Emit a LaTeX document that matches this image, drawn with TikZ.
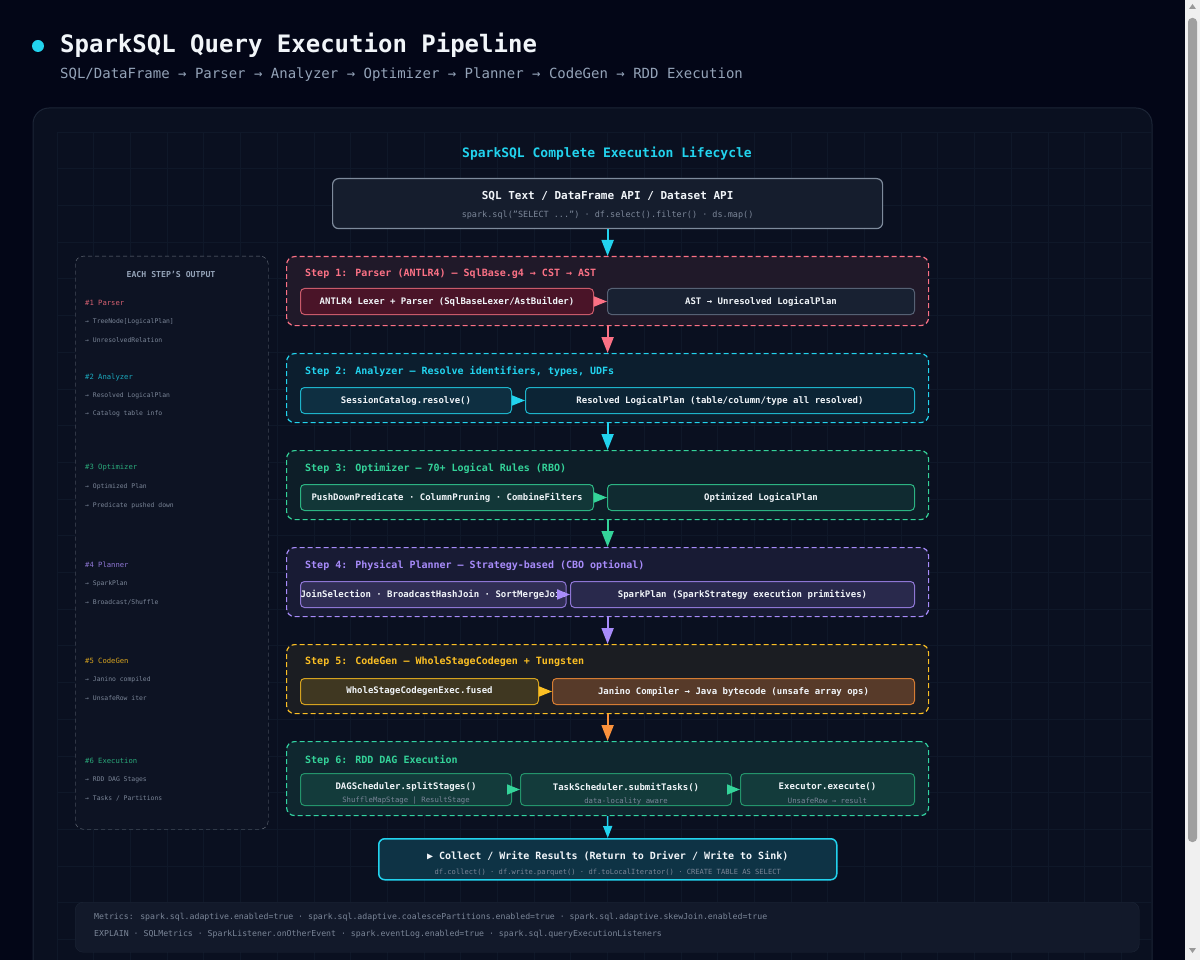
\documentclass[tikz,border=0pt]{standalone}
\usepackage{fontspec}
\setmainfont{DejaVu Sans Mono}
\usetikzlibrary{positioning}
\usetikzlibrary{arrows.meta}

\definecolor{bgc}{HTML}{030617}
\definecolor{panelc}{HTML}{0A1020}
\definecolor{panelb}{HTML}{1C2536}
\definecolor{gridc}{HTML}{0F1829}
\definecolor{txtw}{HTML}{F1F5F9}
\definecolor{subg}{HTML}{7B8698}
\definecolor{greyt}{HTML}{94A3B8}
\definecolor{rosec}{HTML}{FB7185}
\definecolor{maroonc}{HTML}{4A1428}
\definecolor{cyanc}{HTML}{22D3EE}
\definecolor{greenc}{HTML}{34D399}
\definecolor{purpc}{HTML}{A78BFA}
\definecolor{amberc}{HTML}{FBBF24}
\definecolor{orangec}{HTML}{FB923C}

\tikzset{stepbox/.style={draw,dash pattern=on 5pt off 3pt,line width=1.2pt,rounded corners=8pt,minimum width=642pt,minimum height=69pt,anchor=north west,inner sep=0pt}}
\tikzset{steplbl/.style={anchor=west,inner sep=0pt,font=\bfseries\fontsize{10}{12}\selectfont}}
\tikzset{inbox/.style={draw,line width=1pt,rounded corners=4pt,minimum height=26pt,anchor=north west,inner sep=0pt,text=txtw,font=\bfseries\fontsize{9}{11}\selectfont}}
\tikzset{subtxt/.style={inner sep=0pt,text=subg,font=\fontsize{7.3}{9}\selectfont}}
\tikzset{sidehd/.style={anchor=west,inner sep=0pt,font=\fontsize{7.2}{9}\selectfont}}
\tikzset{sideit/.style={anchor=west,inner sep=0pt,text=subg,font=\fontsize{6.4}{8}\selectfont}}
\tikzset{harr/.style={-{Triangle[length=13pt,width=10pt]},line width=1.5pt}}
\tikzset{varr/.style={-{Triangle[length=16pt,width=12pt]},line width=2pt}}

\begin{document}
\begin{tikzpicture}[x=1pt,y=-1pt]
\useasboundingbox (0,0) rectangle (1200,960);
\fill[bgc] (0,0) rectangle (1200,960);

% header
\fill[cyanc] (38,46) circle (6pt);
\node[anchor=west,inner sep=0pt,text=txtw,font=\bfseries\fontsize{24}{28}\selectfont] (title) at (60,45) {SparkSQL Query Execution Pipeline};
\node[anchor=west,inner sep=0pt,text=greyt,font=\fontsize{14}{16}\selectfont] (subtitle) at (60,75) {SQL/DataFrame → Parser → Analyzer → Optimizer → Planner → CodeGen → RDD Execution};

% panel with grid
\filldraw[fill=panelc,draw=panelb,line width=1pt,rounded corners=16pt] (33,108) rectangle (1152,990);
\begin{scope}
\clip[rounded corners=16pt] (33,108) rectangle (1152,990);
\foreach \i in {0,...,29} \draw[gridc,line width=0.8pt] ({57+36.7*\i},132) -- ({57+36.7*\i},960);
\foreach \j in {0,...,22} \draw[gridc,line width=0.8pt] (57,{132+36.7*\j}) -- (1152,{132+36.7*\j});
\end{scope}

\node[inner sep=0pt,text=cyanc,font=\bfseries\fontsize{13}{15}\selectfont] (life) at (607,154) {SparkSQL Complete Execution Lifecycle};

% source
\node[draw=greyt!85!black,fill=panelb!60!panelc,line width=1.2pt,rounded corners=6pt,minimum width=550pt,minimum height=50pt,anchor=north west] (src) at (332,178) {};
\node[inner sep=0pt,text=txtw,font=\bfseries\fontsize{11}{13}\selectfont] (srct) at ([yshift=-18pt]src.north) {SQL Text / DataFrame API / Dataset API};
\node[subtxt,font=\fontsize{8.5}{10}\selectfont] (srcs) at ([yshift=14pt]src.south) {spark.sql("SELECT ...") · df.select().filter() · ds.map()};

% side panel
\node[draw=panelb!80!greyt!70,dash pattern=on 4pt off 3pt,fill=panelc!85!panelb,rounded corners=8pt,minimum width=193pt,minimum height=573pt,anchor=north west] (side) at (75,256) {};
\node[inner sep=0pt,text=greyt,font=\bfseries\fontsize{8.2}{10}\selectfont] (sidet) at (171,274) {EACH STEP'S OUTPUT};
\node[sidehd,text=rosec!85!black] (h1) at (85,303) {\#1 Parser};
\node[sideit] at (85,322) {→ TreeNode[LogicalPlan]};
\node[sideit] at (85,340) {→ UnresolvedRelation};
\node[sidehd,text=cyanc!80!black] (h2) at (85,377) {\#2 Analyzer};
\node[sideit] at (85,396) {→ Resolved LogicalPlan};
\node[sideit] at (85,414) {→ Catalog table info};
\node[sidehd,text=greenc!80!black] (h3) at (85,468) {\#3 Optimizer};
\node[sideit] at (85,487) {→ Optimized Plan};
\node[sideit] at (85,506) {→ Predicate pushed down};
\node[sidehd,text=purpc!85!black] (h4) at (85,565) {\#4 Planner};
\node[sideit] at (85,584) {→ SparkPlan};
\node[sideit] at (85,602) {→ Broadcast/Shuffle};
\node[sidehd,text=amberc!85!black] (h5) at (85,661) {\#5 CodeGen};
\node[sideit] at (85,680) {→ Janino compiled};
\node[sideit] at (85,698) {→ UnsafeRow iter};
\node[sidehd,text=greenc!80!black] (h6) at (85,761) {\#6 Execution};
\node[sideit] at (85,780) {→ RDD DAG Stages};
\node[sideit] at (85,798) {→ Tasks / Partitions};

% step 1
\node[stepbox,draw=rosec,fill=rosec!9!panelc] (s1) at (286,256) {};
\node[steplbl,text=rosec] (s1t) at (305,274) {Step 1: Parser (ANTLR4) — SqlBase.g4 → CST → AST};
\node[inbox,draw=rosec!80!black,fill=maroonc,minimum width=293pt] (s1a) at (300,288) {ANTLR4 Lexer + Parser (SqlBaseLexer/AstBuilder)};
\node[inbox,draw=greyt!55!panelc,fill=panelb!80!panelc,minimum width=307pt] (s1b) at (607,288) {AST → Unresolved LogicalPlan};
\draw[harr,rosec] (s1a.east) -- (s1b.west);

% step 2
\node[stepbox,draw=cyanc,fill=cyanc!7!panelc] (s2) at (286,353) {};
\node[steplbl,text=cyanc] (s2t) at (305,371) {Step 2: Analyzer — Resolve identifiers, types, UDFs};
\node[inbox,draw=cyanc!85!black,fill=cyanc!16!panelc,minimum width=211pt] (s2a) at (300,387) {SessionCatalog.resolve()};
\node[inbox,draw=cyanc!85!black,fill=cyanc!10!panelc,minimum width=389pt] (s2b) at (525,387) {Resolved LogicalPlan (table/column/type all resolved)};
\draw[harr,cyanc] (s2a.east) -- (s2b.west);

% step 3
\node[stepbox,draw=greenc,fill=greenc!7!panelc] (s3) at (286,450) {};
\node[steplbl,text=greenc] (s3t) at (305,468) {Step 3: Optimizer — 70+ Logical Rules (RBO)};
\node[inbox,draw=greenc!85!black,fill=greenc!20!panelc,minimum width=293pt] (s3a) at (300,484) {PushDownPredicate · ColumnPruning · CombineFilters};
\node[inbox,draw=greenc!85!black,fill=greenc!14!panelc,minimum width=307pt] (s3b) at (607,484) {Optimized LogicalPlan};
\draw[harr,greenc] (s3a.east) -- (s3b.west);

% step 4
\node[stepbox,draw=purpc,fill=purpc!9!panelc] (s4) at (286,547) {};
\node[steplbl,text=purpc] (s4t) at (305,565) {Step 4: Physical Planner — Strategy-based (CBO optional)};
\node[inbox,draw=purpc!85!black,fill=purpc!24!panelc,minimum width=257pt] (s4a) at (300,581) {JoinSelection · BroadcastHashJoin · SortMergeJoin};
\node[inbox,draw=purpc!85!black,fill=purpc!20!panelc,minimum width=344pt] (s4b) at (570,581) {SparkPlan (SparkStrategy execution primitives)};
\draw[harr,purpc] (s4a.east) -- (s4b.west);

% step 5
\node[stepbox,draw=amberc,fill=amberc!7!panelc!92!panelb] (s5) at (286,644) {};
\node[steplbl,text=amberc] (s5t) at (305,662) {Step 5: CodeGen — WholeStageCodegen + Tungsten};
\node[inbox,draw=amberc!85!black,fill=amberc!22!panelc,minimum width=238pt] (s5a) at (300,678) {WholeStageCodegenExec.fused};
\node[inbox,draw=orangec!85!black,fill=orangec!32!panelc,minimum width=362pt] (s5b) at (552,678) {Janino Compiler → Java bytecode (unsafe array ops)};
\draw[harr,amberc] (s5a.east) -- (s5b.west);

% step 6
\node[stepbox,draw=greenc!90!cyanc,fill=greenc!12!panelc,minimum height=74pt] (s6) at (286,741) {};
\node[steplbl,text=greenc] (s6t) at (305,760) {Step 6: RDD DAG Execution};
\node[inbox,draw=greenc!70!black,fill=greenc!22!panelc,minimum width=211pt,minimum height=32pt] (s6a) at (300,773) {};
\node[inbox,draw=greenc!70!black,fill=greenc!22!panelc,minimum width=211pt,minimum height=32pt] (s6b) at (520,773) {};
\node[inbox,draw=greenc!70!black,fill=greenc!22!panelc,minimum width=174pt,minimum height=32pt] (s6c) at (740,773) {};
\node[inner sep=0pt,text=txtw,font=\bfseries\fontsize{9}{11}\selectfont] (s6at) at ([yshift=-14pt]s6a.north) {DAGScheduler.splitStages()};
\node[subtxt] (s6as) at ([yshift=5pt]s6a.south) {ShuffleMapStage | ResultStage};
\node[inner sep=0pt,text=txtw,font=\bfseries\fontsize{9}{11}\selectfont] (s6bt) at ([yshift=-14pt]s6b.north) {TaskScheduler.submitTasks()};
\node[subtxt] (s6bs) at ([yshift=5pt]s6b.south) {data-locality aware};
\node[inner sep=0pt,text=txtw,font=\bfseries\fontsize{9}{11}\selectfont] (s6ct) at ([yshift=-14pt]s6c.north) {Executor.execute()};
\node[subtxt] (s6cs) at ([yshift=5pt]s6c.south) {UnsafeRow → result};
\draw[harr,greenc] (s6a.east) -- (s6b.west);
\draw[harr,greenc] (s6b.east) -- (s6c.west);

% result
\node[draw=cyanc,fill=cyanc!18!panelc,line width=1.5pt,rounded corners=6pt,minimum width=458pt,minimum height=41pt,anchor=north west] (res) at (378,838) {};
\node[inner sep=0pt,text=txtw,font=\bfseries\fontsize{10}{12}\selectfont] (rest) at ([yshift=-18pt]res.north) {▶ Collect / Write Results (Return to Driver / Write to Sink)};
\node[subtxt,font=\fontsize{7.1}{9}\selectfont] (ress) at ([yshift=8pt]res.south) {df.collect() · df.write.parquet() · df.toLocalIterator() · CREATE TABLE AS SELECT};

% flow
\draw[varr,cyanc] (src.south) -- (s1.north);
\draw[varr,rosec] (s1.south) -- (s2.north);
\draw[varr,cyanc] (s2.south) -- (s3.north);
\draw[varr,greenc] (s3.south) -- (s4.north);
\draw[varr,purpc] (s4.south) -- (s5.north);
\draw[varr,orangec] (s5.south) -- (s6.north);
\draw[-{Triangle[length=12pt,width=9pt]},line width=1.5pt,cyanc] (s6.south) -- (res.north);

% metrics
\node[draw=panelb,fill=panelb!45!panelc,rounded corners=8pt,minimum width=1064pt,minimum height=50pt,anchor=north west] (met) at (75,902) {};
\node[anchor=west,inner sep=0pt,text=subg,font=\fontsize{8.2}{10}\selectfont] (met1) at (94,917) {Metrics: spark.sql.adaptive.enabled=true · spark.sql.adaptive.coalescePartitions.enabled=true · spark.sql.adaptive.skewJoin.enabled=true};
\node[anchor=west,inner sep=0pt,text=subg,font=\fontsize{8.2}{10}\selectfont] (met2) at (94,934) {EXPLAIN · SQLMetrics · SparkListener.onOtherEvent · spark.eventLog.enabled=true · spark.sql.queryExecutionListeners};

% scrollbar
\fill[white!94!black] (1185,0) rectangle (1200,960);
\fill[gray!75,rounded corners=4pt] (1188,18) rectangle (1197,842);
\fill[gray!80] (1189,9) -- (1196,9) -- (1192.5,4) -- cycle;
\fill[gray!80] (1189,948) -- (1196,948) -- (1192.5,953) -- cycle;
\end{tikzpicture}
\end{document}
